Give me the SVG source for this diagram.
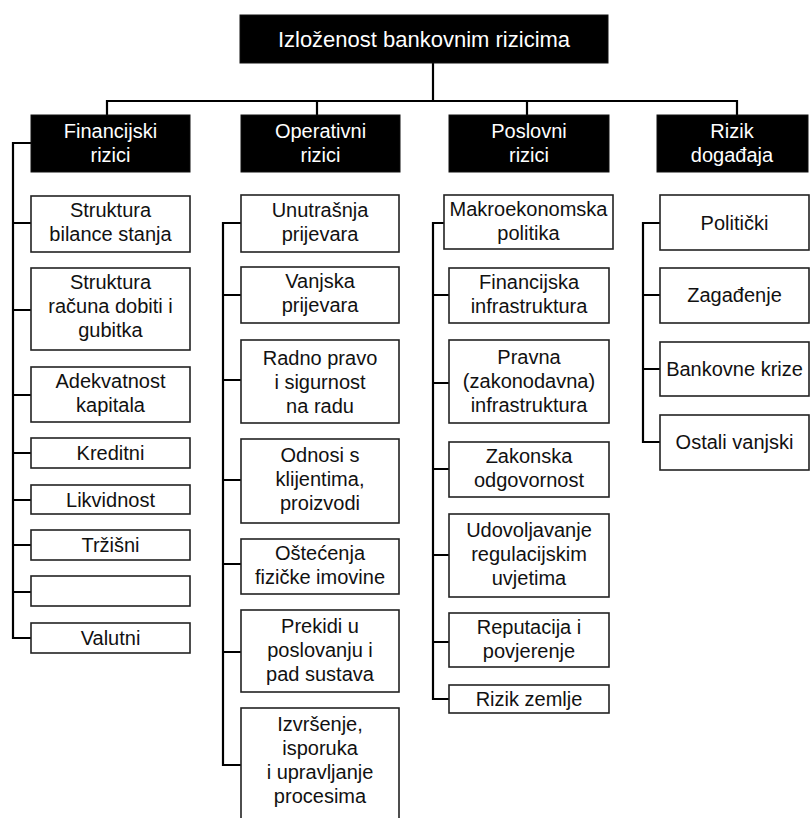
<svg xmlns="http://www.w3.org/2000/svg" width="811" height="818" viewBox="0 0 811 818">
<style>
  .hdr{fill:#000;stroke:#111;stroke-width:1}
  .box{fill:#fff;stroke:#222;stroke-width:1.6}
  .tw{fill:#fff;font-family:"Liberation Sans",Arial,sans-serif;font-size:20px;text-anchor:middle}
  .tb{fill:#111;font-family:"Liberation Sans",Arial,sans-serif;font-size:20px;text-anchor:middle}
  .big{font-size:22px}
  .con{fill:none;stroke:#000;stroke-width:2.2}
</style>
<rect width="811" height="818" fill="#fff"/>
<g id="connectors" class="con">
  <path d="M433,63 V101"/>
  <path d="M107,115 V101 H737 V115"/>
  <path d="M317,101 V115"/>
  <path d="M527,101 V115"/>
  <path d="M31,143 H13 V638 H31"/>
  <path d="M13,223 H31 M13,310 H31 M13,395 H31 M13,453 H31 M13,500 H31 M13,545 H31 M13,592 H31"/>
  <path d="M241,223 H223 V765 H241"/>
  <path d="M223,295 H241 M223,380 H241 M223,480 H241 M223,564 H241 M223,652 H241"/>
  <path d="M444,223 H433 V699 H449"/>
  <path d="M433,295 H449 M433,383 H449 M433,469 H449 M433,555 H449 M433,642 H449"/>
  <path d="M660,223 H643 V442 H660"/>
  <path d="M643,295 H660 M643,369 H660"/>
</g>
<g id="root"><rect class="hdr" x="240" y="15" width="368" height="48"/><text class="tw big" x="424" y="47">Izloženost bankovnim rizicima</text></g>

<g id="financijski"><rect class="hdr" x="31" y="115" width="159" height="57"/><text class="tw" x="110.5" y="138">Financijski</text><text class="tw" x="110.5" y="162">rizici</text></g>
<g id="f1"><rect class="box" x="31" y="196" width="159" height="56"/><text class="tb" x="110.5" y="217">Struktura</text><text class="tb" x="110.5" y="241">bilance stanja</text></g>
<g id="f2"><rect class="box" x="31" y="268" width="159" height="82"/><text class="tb" x="110.5" y="289">Struktura</text><text class="tb" x="110.5" y="313">računa dobiti i</text><text class="tb" x="110.5" y="337">gubitka</text></g>
<g id="f3"><rect class="box" x="31" y="367" width="159" height="55"/><text class="tb" x="110.5" y="388">Adekvatnost</text><text class="tb" x="110.5" y="412">kapitala</text></g>
<g id="f4"><rect class="box" x="31" y="438" width="159" height="30"/><text class="tb" x="110.5" y="460">Kreditni</text></g>
<g id="f5"><rect class="box" x="31" y="485" width="159" height="29"/><text class="tb" x="110.5" y="507">Likvidnost</text></g>
<g id="f6"><rect class="box" x="31" y="530" width="159" height="30"/><text class="tb" x="110.5" y="552">Tržišni</text></g>
<g id="f7"><rect class="box" x="31" y="576" width="159" height="30"/></g>
<g id="f8"><rect class="box" x="31" y="623" width="159" height="30"/><text class="tb" x="110.5" y="645">Valutni</text></g>

<g id="operativni"><rect class="hdr" x="241" y="115" width="159" height="57"/><text class="tw" x="320.5" y="138">Operativni</text><text class="tw" x="320.5" y="162">rizici</text></g>
<g id="o1"><rect class="box" x="241" y="195" width="158" height="57"/><text class="tb" x="320" y="217">Unutrašnja</text><text class="tb" x="320" y="241">prijevara</text></g>
<g id="o2"><rect class="box" x="241" y="267" width="158" height="56"/><text class="tb" x="320" y="288">Vanjska</text><text class="tb" x="320" y="312">prijevara</text></g>
<g id="o3"><rect class="box" x="241" y="340" width="158" height="83"/><text class="tb" x="320" y="365">Radno pravo</text><text class="tb" x="320" y="389">i sigurnost</text><text class="tb" x="320" y="413">na radu</text></g>
<g id="o4"><rect class="box" x="241" y="439" width="158" height="84"/><text class="tb" x="320" y="462">Odnosi s</text><text class="tb" x="320" y="486">klijentima,</text><text class="tb" x="320" y="510">proizvodi</text></g>
<g id="o5"><rect class="box" x="241" y="539" width="158" height="55"/><text class="tb" x="320" y="560">Oštećenja</text><text class="tb" x="320" y="584">fizičke imovine</text></g>
<g id="o6"><rect class="box" x="241" y="610" width="158" height="82"/><text class="tb" x="320" y="633">Prekidi u</text><text class="tb" x="320" y="657">poslovanju i</text><text class="tb" x="320" y="681">pad sustava</text></g>
<g id="o7"><rect class="box" x="241" y="708" width="158" height="115"/><text class="tb" x="320" y="731">Izvršenje,</text><text class="tb" x="320" y="755">isporuka</text><text class="tb" x="320" y="779">i upravljanje</text><text class="tb" x="320" y="803">procesima</text></g>

<g id="poslovni"><rect class="hdr" x="449" y="115" width="160" height="57"/><text class="tw" x="529" y="138">Poslovni</text><text class="tw" x="529" y="162">rizici</text></g>
<g id="p1"><rect class="box" x="444" y="195" width="169" height="54"/><text class="tb" x="528.5" y="216">Makroekonomska</text><text class="tb" x="528.5" y="240">politika</text></g>
<g id="p2"><rect class="box" x="449" y="268" width="160" height="55"/><text class="tb" x="529" y="289">Financijska</text><text class="tb" x="529" y="313">infrastruktura</text></g>
<g id="p3"><rect class="box" x="449" y="340" width="160" height="83"/><text class="tb" x="529" y="364">Pravna</text><text class="tb" x="529" y="388">(zakonodavna)</text><text class="tb" x="529" y="412">infrastruktura</text></g>
<g id="p4"><rect class="box" x="449" y="442" width="160" height="55"/><text class="tb" x="529" y="463">Zakonska</text><text class="tb" x="529" y="487">odgovornost</text></g>
<g id="p5"><rect class="box" x="449" y="514" width="160" height="83"/><text class="tb" x="529" y="537">Udovoljavanje</text><text class="tb" x="529" y="561">regulacijskim</text><text class="tb" x="529" y="585">uvjetima</text></g>
<g id="p6"><rect class="box" x="449" y="613" width="160" height="54"/><text class="tb" x="529" y="634">Reputacija i</text><text class="tb" x="529" y="658">povjerenje</text></g>
<g id="p7"><rect class="box" x="449" y="685" width="160" height="28"/><text class="tb" x="529" y="706">Rizik zemlje</text></g>

<g id="dogadaj"><rect class="hdr" x="657" y="115" width="151" height="57"/><text class="tw" x="732" y="138">Rizik</text><text class="tw" x="732" y="162">događaja</text></g>
<g id="d1"><rect class="box" x="660" y="195" width="149" height="55"/><text class="tb" x="734.5" y="230">Politički</text></g>
<g id="d2"><rect class="box" x="660" y="268" width="149" height="55"/><text class="tb" x="734.5" y="302">Zagađenje</text></g>
<g id="d3"><rect class="box" x="660" y="342" width="149" height="54"/><text class="tb" x="734.5" y="376">Bankovne krize</text></g>
<g id="d4"><rect class="box" x="660" y="415" width="149" height="55"/><text class="tb" x="734.5" y="449">Ostali vanjski</text></g>
</svg>
